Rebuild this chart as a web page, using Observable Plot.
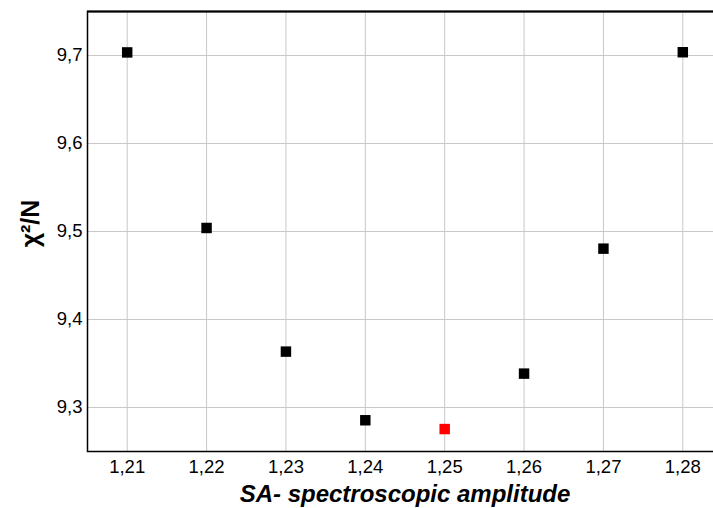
<!DOCTYPE html>
<html><head><meta charset="utf-8">
<script src="https://cdn.jsdelivr.net/npm/d3@7"></script>
<script src="https://cdn.jsdelivr.net/npm/@observablehq/plot@0.6"></script>
<style>
body{margin:0;background:#fff}
</style>
</head><body><div id="chart"></div>
<script>
const amplitude = [1.21, 1.22, 1.23, 1.24, 1.25, 1.26, 1.27, 1.28];
const chi2N = [9.7035, 9.504, 9.3635, 9.2855, 9.2755, 9.3385, 9.4805, 9.7037];
const best = [false, false, false, false, true, false, false, false];
const xTicks = [1.21, 1.22, 1.23, 1.24, 1.25, 1.26, 1.27, 1.28];
const yTicks = [9.3, 9.4, 9.5, 9.6, 9.7];

const data = amplitude.map((a, i) => ({a, v: chi2N[i], best: best[i]}));
const fmt = d => d.toFixed(d >= 5 ? 1 : 2).replace(".", ",");

const chart = Plot.plot({
  width: 713, height: 508,
  marginLeft: 87, marginRight: -9, marginTop: 11, marginBottom: 57,
  style: {fontFamily: "'Liberation Sans', Arial, sans-serif", background: "#fff"},
  x: {domain: [1.205, 1.285], axis: null},
  y: {domain: [9.25, 9.75], axis: null},
  marks: [
    Plot.gridX(xTicks, {stroke: "#c8c8c8", strokeOpacity: 1, strokeWidth: 1}),
    Plot.gridY(yTicks, {stroke: "#c8c8c8", strokeOpacity: 1, strokeWidth: 1}),
    Plot.frame({stroke: "#000", strokeWidth: 1.5}),
    Plot.ruleY([9.75], {stroke: "#000", strokeWidth: 2}),
    Plot.text(xTicks, {x: d => d, frameAnchor: "bottom", dy: 21, text: fmt, fontSize: 18.5, fill: "#000"}),
    Plot.text(yTicks, {y: d => d, frameAnchor: "left", dx: -5, textAnchor: "end", text: fmt, fontSize: 18.5, fill: "#000"}),
    Plot.text(["SA- spectroscopic amplitude"], {frameAnchor: "bottom", dy: 50, text: d => d, fontSize: 24, fontWeight: "bold", fontStyle: "italic", fill: "#000"}),
    Plot.text(["χ²/N"], {frameAnchor: "left", dx: -57, dy: -8, rotate: -90, textAnchor: "middle", text: d => d, fontSize: 25, fontWeight: "bold", fill: "#000"}),
    Plot.dot(data, {x: "a", y: "v", symbol: "square", r: 5.9, fill: d => d.best ? "#ff0000" : "#000", stroke: "none"})
  ]
});
document.getElementById("chart").append(chart);
</script></body></html>
